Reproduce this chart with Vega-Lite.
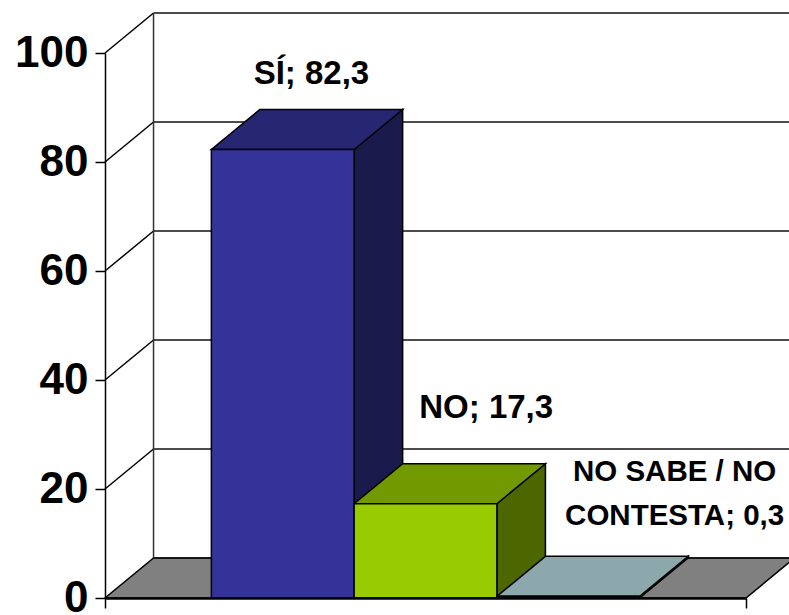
{
"$schema":"https://vega.github.io/schema/vega-lite/v6.json",
"width":641,"height":545,
"autosize":{"type":"none"},
"padding":{"left":105,"top":53,"right":43,"bottom":17},
"background":"white",
"config":{"view":{"stroke":null}},
"datasets":{
 "barras":[
  {"categoria":"SÍ","valor":82.3,"inicio":0.745,"fin":1.745},
  {"categoria":"NO","valor":17.3,"inicio":1.745,"fin":2.745},
  {"categoria":"NS/NC","valor":0.3,"inicio":2.745,"fin":3.745}
 ],
 "escala":[{"v":0},{"v":20},{"v":40},{"v":60},{"v":80},{"v":100}]
},
"layer":[
 {"data":{"values":[{"categoria":"suelo","valor":0,"inicio":0,"fin":4.49}]},
  "transform":[
   {"calculate":"[0,1,2,3]","as":"k"},{"flatten":["k"]},
   {"calculate":"[datum.inicio,datum.inicio+0.34,datum.fin,datum.fin+0.34][datum.k]","as":"px"},
   {"calculate":"[datum.valor,datum.valor,datum.valor,datum.valor+7.34][datum.k]","as":"lo"},
   {"calculate":"[datum.valor,datum.valor+7.34,datum.valor+7.34,datum.valor+7.34][datum.k]","as":"hi"}],
  "mark":{"type":"area","fill":"#808080","stroke":"#000000","strokeWidth":1.5,"clip":false},
  "encoding":{
   "x":{"field":"px","type":"quantitative","title":null,"scale":{"domain":[0,4.49],"nice":false,"zero":false},
        "axis":{"values":[0,4.49],"labels":false,"title":null,"grid":false,"tickSize":10,"tickColor":"#000000","tickWidth":1.5,"domainColor":"#000000","domainWidth":2.5,"zindex":1}},
   "y":{"field":"lo","type":"quantitative","title":null,"stack":null,"scale":{"domain":[0,100],"nice":false,"zero":false},
        "axis":{"values":[0,20,40,60,80,100],"title":null,"grid":false,"tickSize":10,"tickColor":"#000000","tickWidth":1.5,"domainColor":"#000000","domainWidth":1.5,"labelFont":"Liberation Sans","labelFontWeight":"bold","labelFontSize":44,"labelColor":"#000000","labelPadding":7,"zindex":1}},
   "y2":{"field":"hi"}
  }},
 {"data":{"name":"escala"},
  "transform":[{"calculate":"datum.v+7.34","as":"vf"},{"calculate":"0.34","as":"x0"},{"calculate":"4.83","as":"x1"}],
  "mark":{"type":"rule","stroke":"#111111","strokeWidth":1.5,"clip":false},
  "encoding":{"x":{"field":"x0","type":"quantitative","title":null},"x2":{"field":"x1"},"y":{"field":"vf","type":"quantitative","title":null}}},
 {"data":{"name":"escala"},
  "transform":[{"filter":"datum.v>0"},{"calculate":"datum.v+7.34","as":"vf"},{"calculate":"0","as":"x0"},{"calculate":"0.34","as":"x1"}],
  "mark":{"type":"rule","stroke":"#000000","strokeWidth":1.5,"clip":false},
  "encoding":{"x":{"field":"x0","type":"quantitative","title":null},"x2":{"field":"x1"},"y":{"field":"v","type":"quantitative","title":null},"y2":{"field":"vf"}}},
 {"data":{"values":[{"a":7.34,"b":107.34,"x0":0.34}]},
  "mark":{"type":"rule","stroke":"#333333","strokeWidth":1.5,"clip":false},
  "encoding":{"x":{"field":"x0","type":"quantitative","title":null},"y":{"field":"a","type":"quantitative","title":null},"y2":{"field":"b"}}},
 {"data":{"name":"barras"},
  "transform":[
   {"calculate":"[0,1]","as":"k"},{"flatten":["k"]},
   {"calculate":"datum.categoria+' lado'","as":"cara"},
   {"calculate":"datum.fin+0.34*datum.k","as":"px"},
   {"calculate":"7.34*datum.k","as":"lo"},
   {"calculate":"datum.valor+7.34*datum.k","as":"hi"}],
  "mark":{"type":"area","stroke":"#000000","strokeWidth":1.5,"clip":false},
  "encoding":{
   "x":{"field":"px","type":"quantitative","title":null},
   "y":{"field":"lo","type":"quantitative","stack":null,"title":null},"y2":{"field":"hi"},
   "fill":{"field":"cara","type":"nominal","legend":null,"scale":{"domain":["SÍ lado","NO lado","NS/NC lado","SÍ techo","NO techo","NS/NC techo","SÍ frente","NO frente","NS/NC frente"],"range":["#1A1A4D","#4D6600","#6B7F82","#262673","#739900","#8CA8AC","#333399","#99CC00","#8CA8AC"]}}}},
 {"data":{"name":"barras"},
  "transform":[
   {"calculate":"[0,1,2,3]","as":"k"},{"flatten":["k"]},
   {"calculate":"datum.categoria+' techo'","as":"cara"},
   {"calculate":"[datum.inicio,datum.inicio+0.34,datum.fin,datum.fin+0.34][datum.k]","as":"px"},
   {"calculate":"[datum.valor,datum.valor,datum.valor,datum.valor+7.34][datum.k]","as":"lo"},
   {"calculate":"[datum.valor,datum.valor+7.34,datum.valor+7.34,datum.valor+7.34][datum.k]","as":"hi"}],
  "mark":{"type":"area","stroke":"#000000","strokeWidth":1.5,"clip":false},
  "encoding":{
   "x":{"field":"px","type":"quantitative","title":null},
   "y":{"field":"lo","type":"quantitative","stack":null,"title":null},"y2":{"field":"hi"},
   "fill":{"field":"cara","type":"nominal","legend":null}}},
 {"data":{"name":"barras"},
  "transform":[{"calculate":"datum.categoria+' frente'","as":"cara"},{"calculate":"0","as":"base"}],
  "mark":{"type":"rect","stroke":"#000000","strokeWidth":1.5,"clip":false},
  "encoding":{
   "x":{"field":"inicio","type":"quantitative","title":null},"x2":{"field":"fin"},
   "y":{"field":"base","type":"quantitative","title":null},"y2":{"field":"valor"},
   "fill":{"field":"cara","type":"nominal","legend":null}}},
 {"data":{"values":[{"t":"SÍ; 82,3","lx":1.446,"ly":96.1},{"t":"NO; 17,3","lx":2.67,"ly":34.8}]},
  "mark":{"type":"text","font":"Liberation Sans","fontWeight":"bold","fontSize":33,"color":"#000000","align":"center","baseline":"middle","clip":false},
  "encoding":{"x":{"field":"lx","type":"quantitative","title":null},"y":{"field":"ly","type":"quantitative","title":null},"text":{"field":"t","type":"nominal"}}},
 {"data":{"values":[{"t":"NO SABE / NO|CONTESTA; 0,3","lx":3.99,"ly":23.1}]},
  "mark":{"type":"text","font":"Liberation Sans","fontWeight":"bold","fontSize":29.5,"lineHeight":44,"lineBreak":"|","color":"#000000","align":"center","baseline":"middle","clip":false},
  "encoding":{"x":{"field":"lx","type":"quantitative","title":null},"y":{"field":"ly","type":"quantitative","title":null},"text":{"field":"t","type":"nominal"}}}
]
}
